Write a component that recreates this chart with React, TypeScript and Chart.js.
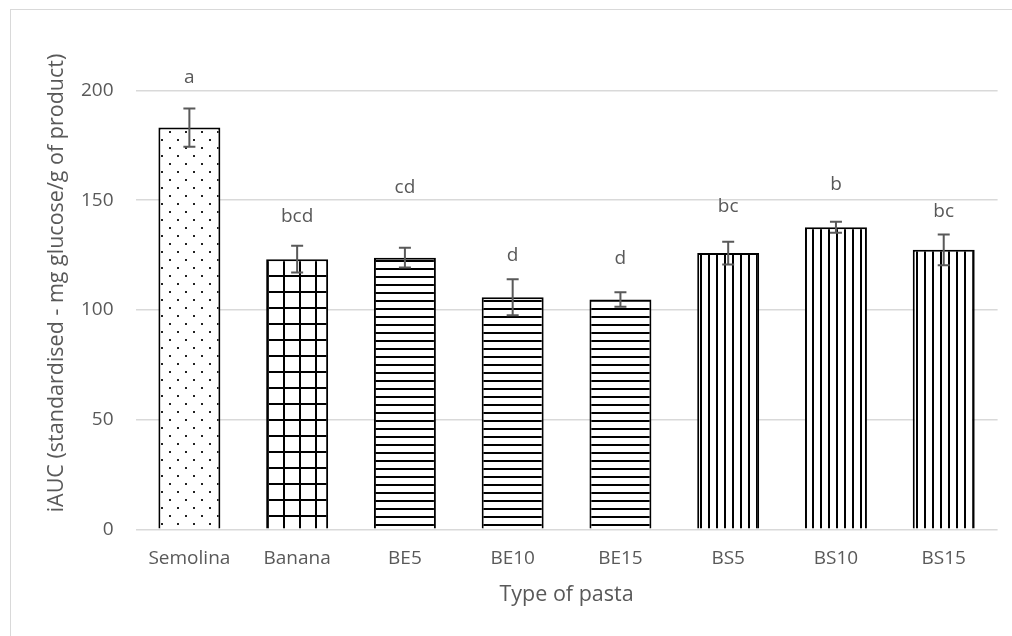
import React, { useEffect, useRef } from "react";
import { Chart, registerables } from "chart.js";
Chart.register(...registerables);

const categories = ["Semolina", "Banana", "BE5", "BE10", "BE15", "BS5", "BS10", "BS15"];
const means = [183.1, 123.1, 123.8, 105.8, 104.7, 125.9, 137.7, 127.4];
const errors = [8.7, 6.1, 4.5, 8.2, 3.3, 5.2, 2.5, 7.0];
const letters = ["a", "bcd", "cd", "d", "d", "bc", "b", "bc"];
const letterPos = [205.8, 142.5, 155.6, 124.6, 123.6, 147, 157, 144.8];
const patternKinds = ["dots", "grid", "hlines", "hlines", "hlines", "vlines", "vlines", "vlines"];
const yMin = 0;
const yMax = 200;
const yStep = 50;
const xTitle = "Type of pasta";
const yTitle = "iAUC (standardised - mg glucose/g of product)";

const FONT = "'Open Sans', 'Liberation Sans', sans-serif";
const TEXT = "#595959";

function makePattern(kind: string): CanvasPattern | string {
  const c = document.createElement("canvas");
  const size = kind === "dots" || kind === "grid" ? 16 : 8;
  c.width = size;
  c.height = size;
  const g = c.getContext("2d")!;
  g.fillStyle = "#ffffff";
  g.fillRect(0, 0, size, size);
  g.fillStyle = "#000000";
  if (kind === "dots") {
    g.fillStyle = "#222222";
    g.fillRect(1, 11, 2, 2);
    g.fillRect(9, 3, 2, 2);
  } else if (kind === "grid") {
    g.fillRect(11, 0, 2, size);
    g.fillRect(0, 3, size, 2);
  } else if (kind === "hlines") {
    g.fillRect(0, 4, size, 2);
  } else if (kind === "vlines") {
    g.fillRect(4, 0, 2, size);
  }
  const ctx = document.createElement("canvas").getContext("2d")!;
  return ctx.createPattern(c, "repeat") || "#fff";
}

const overlayPlugin = {
  id: "overlay",
  afterDatasetsDraw(chart: any) {
    const ctx = chart.ctx as CanvasRenderingContext2D;
    const x = chart.scales.x;
    const y = chart.scales.y;
    ctx.save();
    // error bars
    ctx.strokeStyle = "#595959";
    ctx.lineWidth = 2;
    means.forEach((m, i) => {
      const cx = x.getPixelForValue(i);
      const top = y.getPixelForValue(m + errors[i]);
      const bot = y.getPixelForValue(m - errors[i]);
      ctx.beginPath();
      ctx.moveTo(cx, top);
      ctx.lineTo(cx, bot);
      ctx.moveTo(cx - 6, top);
      ctx.lineTo(cx + 6, top);
      ctx.moveTo(cx - 6, bot);
      ctx.lineTo(cx + 6, bot);
      ctx.stroke();
    });
    // letters
    ctx.fillStyle = TEXT;
    ctx.font = `19px ${FONT}`;
    ctx.textAlign = "center";
    ctx.textBaseline = "middle";
    letters.forEach((l, i) => {
      ctx.fillText(l, x.getPixelForValue(i), y.getPixelForValue(letterPos[i]));
    });
    // y title
    ctx.font = `21.5px ${FONT}`;
    ctx.translate(57, 283);
    ctx.rotate(-Math.PI / 2);
    ctx.fillText(yTitle, 0, 0);
    ctx.restore();
  },
};

export default function App() {
  const ref = useRef<HTMLCanvasElement | null>(null);
  useEffect(() => {
    if (!ref.current) return;
    const chart = new Chart(ref.current, {
      type: "bar",
      data: {
        labels: categories,
        datasets: [
          {
            data: means,
            backgroundColor: patternKinds.map(makePattern) as any,
            borderColor: "#000000",
            borderWidth: 2,
            categoryPercentage: 1,
            barPercentage: 0.575,
          },
        ],
      },
      options: {
        animation: false,
        responsive: false,
        devicePixelRatio: 1,
        layout: { padding: { top: 90.5, right: 14.4, left: 0, bottom: 0 } },
        plugins: { legend: { display: false }, tooltip: { enabled: false } },
        scales: {
          y: {
            min: yMin,
            max: yMax,
            ticks: { stepSize: yStep, color: TEXT, font: { family: FONT, size: 19 }, padding: 22 },
            grid: { color: "#d9d9d9", lineWidth: 1.5, drawTicks: false },
            border: { display: false },
            afterFit: (s: any) => {
              s.width = 135.5;
            },
          },
          x: {
            grid: { display: false, drawTicks: false },
            border: { display: false },
            ticks: { color: TEXT, font: { family: FONT, size: 19 }, padding: 18, maxRotation: 0 },
            title: {
              display: true,
              text: xTitle,
              color: TEXT,
              font: { family: FONT, size: 21.5 },
              padding: { top: 0, bottom: 28 },
            },
            afterFit: (s: any) => {
              s.height = 636 - 529.3;
            },
          },
        },
      },
      plugins: [overlayPlugin],
    });
    return () => chart.destroy();
  }, []);
  return (
    <div>
      <div
        style={{
          position: "fixed",
          left: 10,
          top: 9,
          width: 1010,
          height: 640,
          border: "1px solid #d9d9d9",
          boxSizing: "border-box",
        }}
      />
      <canvas
        ref={ref}
        width={1012}
        height={636}
        style={{ position: "fixed", left: 0, top: 0, width: 1012, height: 636 }}
      />
    </div>
  );
}
